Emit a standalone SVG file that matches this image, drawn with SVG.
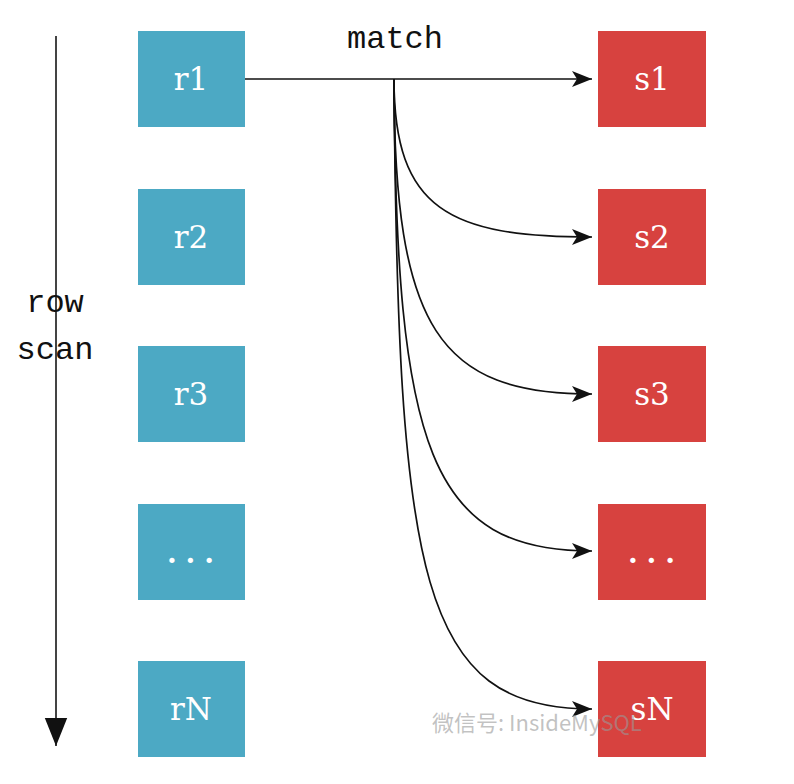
<svg xmlns="http://www.w3.org/2000/svg" width="794" height="784" viewBox="0 0 794 784">
<style>
.r{fill:#4CA9C4}
.s{fill:#D7423F}
.lbl{font-family:"DejaVu Serif",serif;font-size:31px;fill:#fff;text-anchor:middle}
.dots{font-family:"DejaVu Serif",serif;font-size:28px;font-weight:bold;fill:#fff;text-anchor:middle;letter-spacing:9px}
.mono{font-family:"Liberation Mono",monospace;font-size:32px;fill:#111;text-anchor:middle}
.c{fill:none;stroke:#111;stroke-width:1.7}
</style>
<defs>
<marker id="ah" viewBox="0 0 20 16" refX="20" refY="8" markerWidth="20" markerHeight="16" markerUnits="userSpaceOnUse" orient="auto">
<path d="M0,0 L20,8 L0,16 L5,8 Z" fill="#111"/>
</marker>
<marker id="ah2" viewBox="0 0 20 20" refX="20" refY="10" markerWidth="28" markerHeight="28" markerUnits="userSpaceOnUse" orient="auto">
<path d="M0,2 L20,10 L0,18 Z" fill="#111"/>
</marker>
</defs>
<rect width="794" height="784" fill="#fff"/>
<g id="scan">
<line x1="56" y1="36" x2="56" y2="746" stroke="#444" stroke-width="2" marker-end="url(#ah2)"/>
<text class="mono" x="55" y="312">row</text>
<text class="mono" x="55" y="359">scan</text>
</g>
<text id="match" class="mono" x="395" y="48">match</text>
<g id="r1"><rect class="r" x="138" y="31" width="107" height="96"/><text class="lbl" x="191" y="90">r1</text></g>
<g id="r2"><rect class="r" x="138" y="189" width="107" height="96"/><text class="lbl" x="191" y="248">r2</text></g>
<g id="r3"><rect class="r" x="138" y="346" width="107" height="96"/><text class="lbl" x="191" y="405">r3</text></g>
<g id="r4"><rect class="r" x="138" y="504" width="107" height="96"/><text class="dots" x="195" y="563">...</text></g>
<g id="rN"><rect class="r" x="138" y="661" width="107" height="96"/><text class="lbl" x="191" y="720">rN</text></g>
<g id="s1"><rect class="s" x="598" y="31" width="108" height="96"/><text class="lbl" x="652" y="90">s1</text></g>
<g id="s2"><rect class="s" x="598" y="189" width="108" height="96"/><text class="lbl" x="652" y="248">s2</text></g>
<g id="s3"><rect class="s" x="598" y="346" width="108" height="96"/><text class="lbl" x="652" y="405">s3</text></g>
<g id="s4"><rect class="s" x="598" y="504" width="108" height="96"/><text class="dots" x="656" y="563">...</text></g>
<g id="sN"><rect class="s" x="598" y="661" width="108" height="96"/><text class="lbl" x="652" y="720">sN</text></g>
<g id="connectors">
<path class="c" d="M245,79 H592" stroke-width="2" marker-end="url(#ah)"/>
<path class="c" d="M394,79 V100" stroke-width="2.4"/>
<path class="c" d="M394,79 C394,210 450,237 592,237" marker-end="url(#ah)"/>
<path class="c" d="M394,79 C394,330 440,394 592,394" marker-end="url(#ah)"/>
<path class="c" d="M394,79 C396,450 430,551 592,551" marker-end="url(#ah)"/>
<path class="c" d="M394,79 C398,580 420,709 592,709" marker-end="url(#ah)"/>
</g>
<text id="wm" x="432" y="731" font-family="'Noto Sans CJK SC','Noto Sans',sans-serif" font-size="22" fill="#999" fill-opacity="0.6">微信号: InsideMySQL</text>
</svg>
